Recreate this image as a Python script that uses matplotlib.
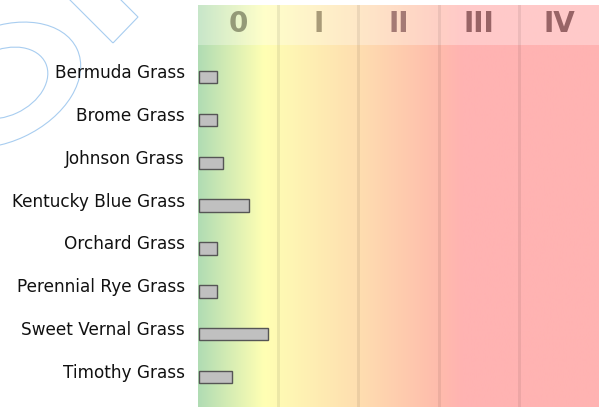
import numpy as np
import matplotlib
matplotlib.use("Agg")
import matplotlib.pyplot as plt
import matplotlib.transforms as mtransforms
from matplotlib.patches import Rectangle, Ellipse, Polygon

categories = ["Bermuda Grass", "Brome Grass", "Johnson Grass", "Kentucky Blue Grass",
              "Orchard Grass", "Perennial Rye Grass", "Sweet Vernal Grass", "Timothy Grass"]
values = [0.22, 0.22, 0.30, 0.62, 0.22, 0.22, 0.86, 0.41]
levels = ["0", "I", "II", "III", "IV"]
level_colors = ["#949a78", "#a89a78", "#a47a74", "#986466", "#986466"]

W, H = 606, 407
fig = plt.figure(figsize=(W / 100, H / 100), dpi=100)

# watermark layer (pixel coordinates)
wm = fig.add_axes([0, 0, 1, 1], zorder=0)
wm.set_xlim(0, W)
wm.set_ylim(H, 0)
wm.axis("off")
wc = "#a8cdf0"
wm.add_patch(Ellipse((0, 85), 170, 114, angle=-25, fill=False, edgecolor=wc, lw=0.8))
wm.add_patch(Ellipse((3, 83), 94, 66, angle=-25, fill=False, edgecolor=wc, lw=0.8))
wm.add_patch(Polygon([(113, 43), (138, 17), (78, -43), (53, -17)], closed=True,
                     fill=False, edgecolor=wc, lw=0.8))

ax = fig.add_axes([198 / W, 0, (599 - 198) / W, (H - 5) / H], zorder=1)
ax.patch.set_alpha(0)
y_top, y_bot = -1.68, 7.70
hdr_bottom = -0.758

# background gradient
stops_x = [0.0, 0.82, 1.0, 2.0, 3.0, 3.3, 5.0]
stops_c = np.array([
    [176, 220, 180],
    [255, 255, 179],
    [255, 250, 180],
    [254, 222, 176],
    [255, 188, 172],
    [255, 179, 178],
    [255, 179, 178],
]) / 255.0
xs = np.linspace(0, 5, 1000)
img = np.stack([np.interp(xs, stops_x, stops_c[:, k]) for k in range(3)], axis=-1)[None, :, :]
ax.imshow(img, extent=(0, 5, y_bot, y_top), aspect="auto", interpolation="bilinear", zorder=0)

# header band overlay
ax.add_patch(Rectangle((0, y_top), 5, hdr_bottom - y_top, facecolor="white", alpha=0.3,
                       edgecolor="none", zorder=1))

for k in range(1, 5):
    ax.axvline(k, color="black", alpha=0.07, lw=2.2, zorder=2)

for k, (lv, col) in enumerate(zip(levels, level_colors)):
    ax.text(k + 0.5, -1.06, lv, ha="center", va="baseline", fontsize=20,
            fontweight="bold", color=col, zorder=3)

y = np.arange(len(categories))
ax.barh(y, values, left=0.012, height=0.29, color="#c0c0c0", edgecolor="#555555",
        linewidth=1.0, zorder=4)

off = mtransforms.offset_copy(ax.transData, fig=fig, x=-13, y=-1, units="dots")
for i, c in enumerate(categories):
    ax.text(0, i, c, transform=off, ha="right", va="baseline", fontsize=12.2,
            color="#111111", clip_on=False)

ax.set_xlim(0, 5)
ax.set_ylim(y_bot, y_top)
ax.set_xticks([])
ax.set_yticks([])
for s in ax.spines.values():
    s.set_visible(False)

fig.savefig("out.png", dpi=100)
